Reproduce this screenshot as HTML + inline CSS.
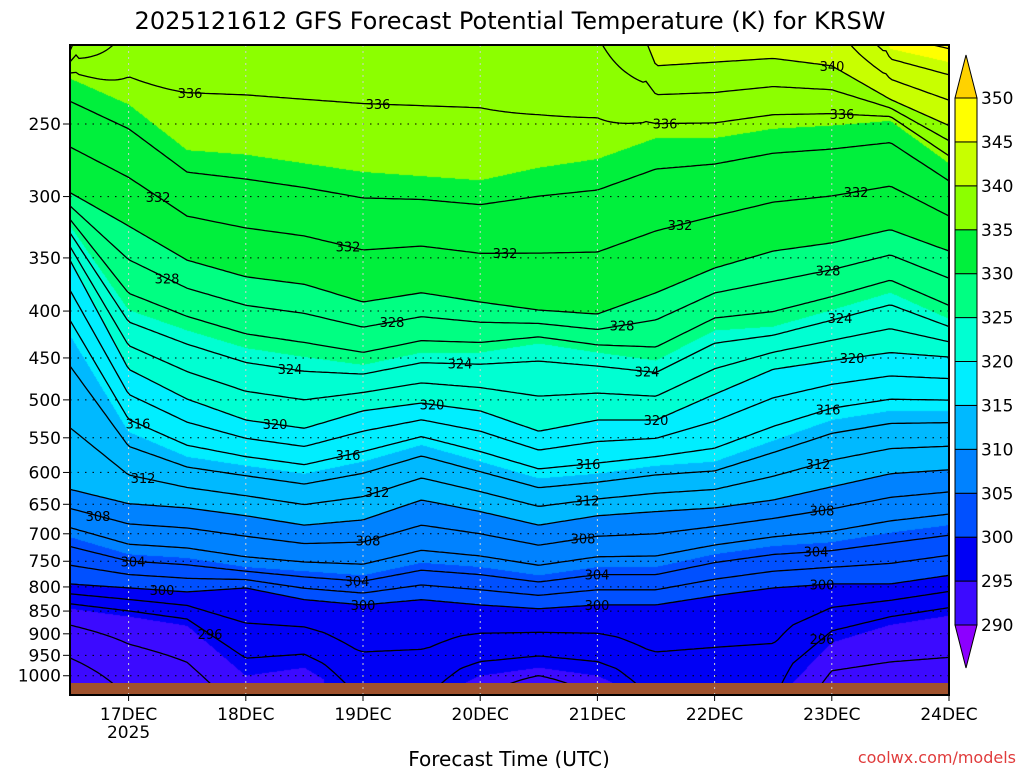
<!DOCTYPE html>
<html><head><meta charset="utf-8">
<style>
body{margin:0;background:#fff;}
#wrap{position:relative;width:1024px;height:768px;overflow:hidden;background:#fff;font-family:"DejaVu Sans","Liberation Sans",sans-serif;}
#field{position:absolute;left:70px;top:45px;}
svg{position:absolute;left:0;top:0;}
</style></head>
<body>
<div id="wrap">
<canvas id="field" width="880" height="638"></canvas>
<svg id="svg" width="1024" height="768">
  <defs><clipPath id="clip"><rect x="70" y="45" width="879" height="638"/></clipPath></defs>
  <text x="510" y="29" text-anchor="middle" font-size="24" fill="#000">2025121612 GFS Forecast Potential Temperature (K) for KRSW</text>
  <text x="509" y="766" text-anchor="middle" font-size="20" fill="#000">Forecast Time (UTC)</text>
  <text x="1016" y="763" text-anchor="end" font-size="16" fill="#e03c3c">coolwx.com/models</text>
  <rect x="70" y="683" width="879" height="12" fill="#a0522d"/>
  <g id="grid"></g>
  <g id="contours" clip-path="url(#clip)"></g>
  <g id="labels"></g>
  <rect x="70" y="45" width="879" height="650" fill="none" stroke="#000" stroke-width="2"/>
  <g id="axes"></g>
  <g id="cbar"></g>
</svg>
</div>
<script>
// ---- data ----
const times = ['16/12','17/00','17/12','18/00','18/12','19/00','19/12','20/00','20/12','21/00','21/12','22/00','22/12','23/00','23/12','24/00'];
const isentropes = [295,300,305,310,315,320,325,330,335,340,345];
// pressure (hPa) of each isentrope at each time (150 = above plot top, 1070 = below ground)
const p295 = [845,862,882,1000,980,1070,1070,1000,980,1000,1070,1070,1070,920,880,860];
const p300 = [794,802,810,802,826,837,826,837,845,837,837,818,802,794,794,777];
const p305 = [706,737,744,761,769,777,753,761,777,761,761,737,722,715,698,685];
const p310 = [626,649,656,669,685,676,643,662,685,669,662,656,643,622,602,596];
const p315 = [425,542,577,590,602,584,560,584,609,602,590,584,554,526,514,514];
const p320 = [352,463,499,526,537,514,504,514,541,526,526,493,463,453,444,449];
const p325 = [323,399,420,439,449,458,444,444,434,444,453,420,416,399,382,408];
const p330 = [297,323,352,367,374,391,382,391,399,403,382,359,344,337,326,344];
const p335 = [223,238,267,270,276,282,285,288,279,273,259,259,253,251,248,276];
const p340 = [208,150,150,150,150,150,150,150,150,150,216,214,212,216,235,251];
const p345 = [150,150,150,150,150,150,150,150,150,150,150,150,150,150,207,214];
const thetaTop = [341.5,337.5,337,337,337,337,337,337,337.5,338,341,341,341.5,341,346,347];
const thetaSfc = [289.5,292,293,294.5,294.5,296,296,294.5,291,294.5,296,296,296,293,293,293];
const pLevels = [1000,950,900,850,800,750,700,650,600,550,500,450,400,350,300,250];
const dayLabels = ['17DEC','18DEC','19DEC','20DEC','21DEC','22DEC','23DEC','24DEC'];
const cbarTicks = [290,295,300,305,310,315,320,325,330,335,340,345,350];
const binColors = ['#8c00ff','#3c0aff','#0000f5','#0050ff','#0082ff','#00b9ff','#00eeff','#00ffd2','#00ff82','#00f03c','#8cff00','#c8ff00','#ffff00','#ffd200'];

const series = [p295,p300,p305,p310,p315,p320,p325,p330,p335,p340,p345];
const X0=70, X1=949, Y0=45, YG=683;
const NS = 'http://www.w3.org/2000/svg';
const ln250 = Math.log(250);
function yOfP(p){return 124 + 398*(Math.log(p)-ln250);}
function xOfT(f){return X0 + f*(X1-X0)/(times.length-1);}
function pOfY(y){return 250*Math.exp((y-124)/398);}

function profile(f){
  const n=times.length-1; f=Math.max(0,Math.min(n,f));
  const i=Math.min(n-1,Math.floor(f)), w=f-i;
  const pts=[];
  pts.push([Math.log(1060), thetaSfc[i]*(1-w)+thetaSfc[i+1]*w]);
  series.forEach((s,k)=>{
    pts.push([Math.log(s[i])*(1-w)+Math.log(s[i+1])*w, isentropes[k]]);
  });
  pts.push([Math.log(200), thetaTop[i]*(1-w)+thetaTop[i+1]*w]);
  pts.sort((a,b)=>b[0]-a[0]);
  for(let k=1;k<pts.length;k++) if(pts[k][1]<pts[k-1][1]+0.01) pts[k][1]=pts[k-1][1]+0.01;
  return pts;
}
function thetaAt(pts,lp){
  if(lp>=pts[0][0]) return pts[0][1];
  for(let k=1;k<pts.length;k++){
    if(lp>=pts[k][0]){const a=pts[k-1],b=pts[k];const w=(a[0]-lp)/(a[0]-b[0]);return a[1]+w*(b[1]-a[1]);}
  }
  const a=pts[pts.length-2],b=pts[pts.length-1];
  return b[1]+(b[1]-a[1])/(a[0]-b[0])*(b[0]-lp);
}
function lpOfTheta(pts,v){
  for(let k=1;k<pts.length;k++){
    const a=pts[k-1],b=pts[k];
    if(v>=a[1]&&v<b[1]){const w=(v-a[1])/(b[1]-a[1]);return a[0]+w*(b[0]-a[0]);}
  }
  return null;
}
function colorFor(t){let b=Math.floor((t-285)/5);return binColors[Math.max(0,Math.min(binColors.length-1,b))];}
function hex(c){return [parseInt(c.substr(1,2),16),parseInt(c.substr(3,2),16),parseInt(c.substr(5,2),16)];}
const rgb = binColors.map(hex);

// ---- field ----
const cv=document.getElementById('field'),ctx=cv.getContext('2d');
const img=ctx.createImageData(880,638);
const lps=[];for(let r=0;r<638;r++) lps.push(Math.log(pOfY(Y0+r+0.5)));
for(let c=0;c<880;c++){
  const f=(c+0.5)*(times.length-1)/(X1-X0);
  const pts=profile(f);
  for(let r=0;r<638;r++){
    const t=thetaAt(pts,lps[r]);
    let b=Math.floor((t-285)/5);b=Math.max(0,Math.min(rgb.length-1,b));
    const o=(r*880+c)*4;img.data[o]=rgb[b][0];img.data[o+1]=rgb[b][1];img.data[o+2]=rgb[b][2];img.data[o+3]=255;
  }
}
ctx.putImageData(img,0,0);

// ---- contours ----
const cg=document.getElementById('contours');
const profs=[];for(let x=X0;x<=X1;x+=3){profs.push([x,profile((x-X0)*(times.length-1)/(X1-X0))]);}
for(let v=290;v<=348;v+=2){
  let d='',pen=false;
  profs.forEach(([x,pts])=>{
    const lp=lpOfTheta(pts,v);
    if(lp===null){pen=false;return;}
    const y=124+398*(lp-ln250);
    d+=(pen?'L':'M')+x.toFixed(1)+' '+y.toFixed(1);pen=true;
  });
  if(!d) continue;
  const p=document.createElementNS(NS,'path');
  p.setAttribute('d',d);p.setAttribute('fill','none');p.setAttribute('stroke','#000');p.setAttribute('stroke-width','1.3');
  
  
  cg.appendChild(p);
}
// labels
const labelSpots={340:[832],336:[190,378,665,842],332:[158,348,505,680,856],328:[167,392,622,828],324:[290,460,647,840],320:[275,432,656,852],316:[138,348,588,828],312:[143,377,587,818],308:[98,368,583,822],304:[133,357,597,816],300:[162,363,597,822],296:[210,822]};
const lg=document.getElementById('labels');
Object.keys(labelSpots).forEach(v=>{
  labelSpots[v].forEach(x=>{
    const lp=lpOfTheta(profile((x-X0)*(times.length-1)/(X1-X0)),+v);
    if(lp===null) return;
    const y=124+398*(lp-ln250);
    if(y<52||y>678) return;
    const t=document.createElementNS(NS,'text');
    t.setAttribute('x',x);t.setAttribute('y',y+5);t.setAttribute('text-anchor','middle');t.setAttribute('font-size','13');
    
    
    t.textContent=v;lg.appendChild(t);
  });
});

// ---- grid & axes ----
const gg=document.getElementById('grid'),ag=document.getElementById('axes');
pLevels.forEach(p=>{
  const y=yOfP(p);
  const l=document.createElementNS(NS,'line');
  l.setAttribute('x1',X0);l.setAttribute('x2',X1);l.setAttribute('y1',y);l.setAttribute('y2',y);
  l.setAttribute('stroke','#000');l.setAttribute('stroke-width','1');l.setAttribute('stroke-dasharray','1.5 6');
  
  
  gg.appendChild(l);
  const tk=document.createElementNS(NS,'line');
  tk.setAttribute('x1',63);tk.setAttribute('x2',70);tk.setAttribute('y1',y);tk.setAttribute('y2',y);tk.setAttribute('stroke','#000');
  
  
  ag.appendChild(tk);
  const t=document.createElementNS(NS,'text');
  t.setAttribute('x',61);t.setAttribute('y',y+6);t.setAttribute('text-anchor','end');t.setAttribute('font-size','17');
  
  
  t.textContent=p;ag.appendChild(t);
});
dayLabels.forEach((d,i)=>{
  const x=xOfT(1+2*i);
  const l=document.createElementNS(NS,'line');
  l.setAttribute('x1',x);l.setAttribute('x2',x);l.setAttribute('y1',Y0);l.setAttribute('y2',695);
  l.setAttribute('stroke','#d0d0d0');l.setAttribute('stroke-width','1');l.setAttribute('stroke-dasharray','2 4');
  
  
  gg.appendChild(l);
  const tk=document.createElementNS(NS,'line');
  tk.setAttribute('x1',x);tk.setAttribute('x2',x);tk.setAttribute('y1',695);tk.setAttribute('y2',701);tk.setAttribute('stroke','#000');
  
  
  ag.appendChild(tk);
  const t=document.createElementNS(NS,'text');
  t.setAttribute('x',x);t.setAttribute('y',720);t.setAttribute('text-anchor','middle');t.setAttribute('font-size','17');
  
  
  t.textContent=d;ag.appendChild(t);
});
{const t=document.createElementNS(NS,'text');
t.setAttribute('x',xOfT(1));t.setAttribute('y',738);t.setAttribute('text-anchor','middle');t.setAttribute('font-size','17');


t.textContent='2025';ag.appendChild(t);}

// ---- colorbar ----
const cb=document.getElementById('cbar');
const cx0=955,cx1=977,cyTop=98,cyBot=625,step=(cyBot-cyTop)/(cbarTicks.length-1);
function cyOf(v){return cyBot-(v-cbarTicks[0])/5*step;}
for(let i=0;i<cbarTicks.length-1;i++){
  const r=document.createElementNS(NS,'rect');
  r.setAttribute('x',cx0);r.setAttribute('y',cyOf(cbarTicks[i+1]));r.setAttribute('width',cx1-cx0);r.setAttribute('height',step);
  r.setAttribute('fill',colorFor(cbarTicks[i]+2.5));r.setAttribute('stroke','#000');r.setAttribute('stroke-width','1');
  
  
  cb.appendChild(r);
}
{const a=document.createElementNS(NS,'polygon');
a.setAttribute('points',`${cx0},${cyTop} ${cx1},${cyTop} ${(cx0+cx1)/2},55`);a.setAttribute('fill',colorFor(352));a.setAttribute('stroke','#000');


cb.appendChild(a);
const b=document.createElementNS(NS,'polygon');
b.setAttribute('points',`${cx0},${cyBot} ${cx1},${cyBot} ${(cx0+cx1)/2},668`);b.setAttribute('fill',colorFor(288));b.setAttribute('stroke','#000');


cb.appendChild(b);}
cbarTicks.forEach(v=>{
  const t=document.createElementNS(NS,'text');
  t.setAttribute('x',981);t.setAttribute('y',cyOf(v)+6);t.setAttribute('font-size','17');
  
  
  t.textContent=v;cb.appendChild(t);
});
</script>
</body></html>
